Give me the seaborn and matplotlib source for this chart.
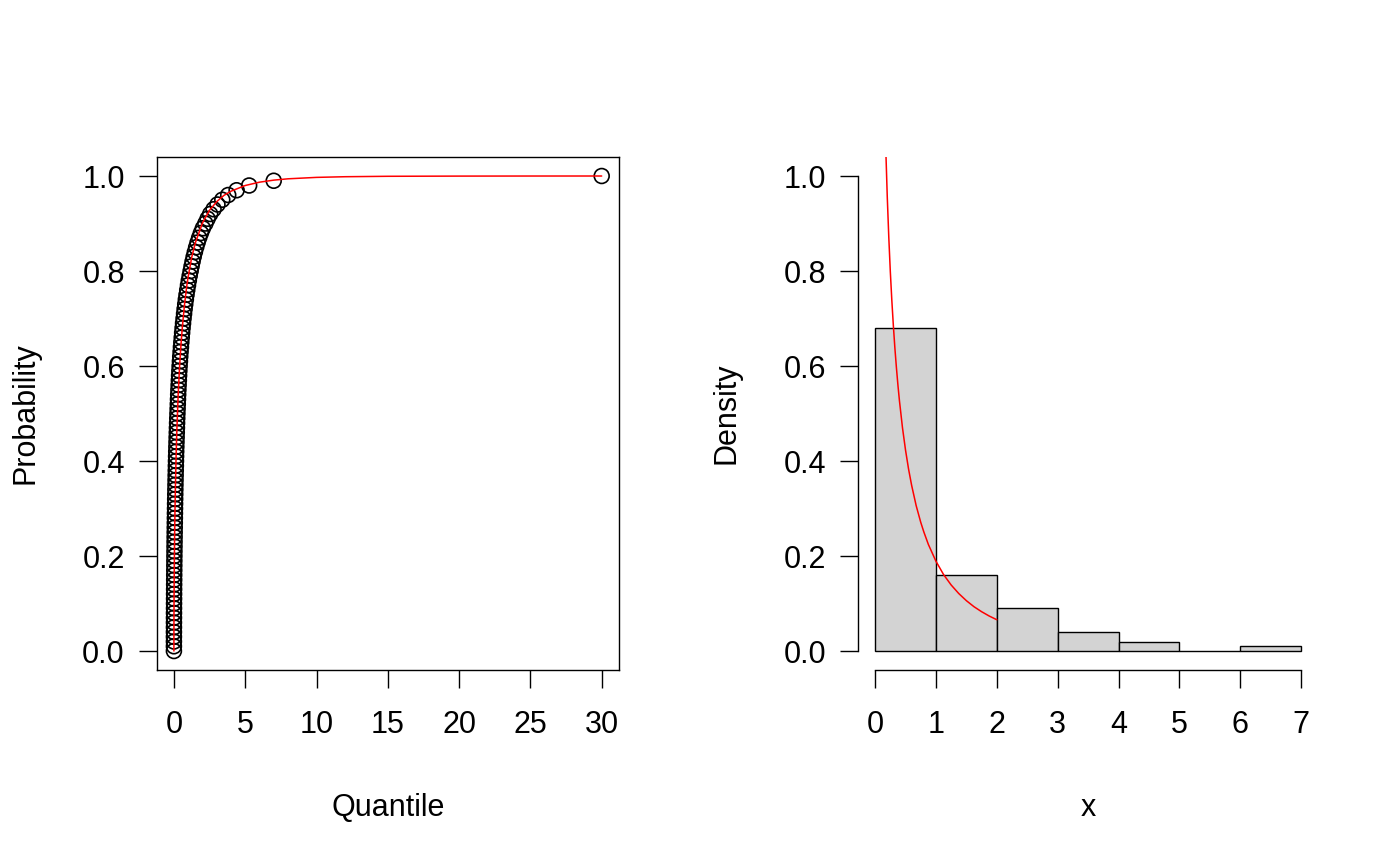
import numpy as np
import pandas as pd
import seaborn as sns
import matplotlib.pyplot as plt

# left panel: probability levels and the matching sample quantiles
probs = [i / 100 for i in range(101)]
quantiles = [
    0, 0.0002, 0.0005, 0.0011, 0.0018, 0.0027, 0.0037, 0.0049, 0.0062, 0.0077,
    0.0093, 0.0111, 0.0130, 0.0151, 0.0174, 0.0198, 0.0223, 0.0251, 0.0280, 0.0311,
    0.0343, 0.0378, 0.0414, 0.0452, 0.0492, 0.0534, 0.0578, 0.0624, 0.0672, 0.0723,
    0.0776, 0.0831, 0.0889, 0.0949, 0.1012, 0.1077, 0.1146, 0.1217, 0.1291, 0.1368,
    0.1449, 0.1533, 0.1620, 0.1711, 0.1806, 0.1905, 0.2008, 0.2115, 0.2227, 0.2343,
    0.2464, 0.2590, 0.2721, 0.2858, 0.3002, 0.3151, 0.3307, 0.3469, 0.3639, 0.3817,
    0.400, 0.422, 0.444, 0.468, 0.493, 0.520, 0.548, 0.577, 0.608, 0.641,
    0.676, 0.713, 0.751, 0.793, 0.837, 0.884, 0.934, 0.988, 1.045, 1.107,
    1.173, 1.238, 1.309, 1.386, 1.470, 1.561, 1.661, 1.771, 1.894, 2.031,
    2.206, 2.363, 2.544, 2.782, 3.055, 3.392, 3.808, 4.397, 5.276, 6.999,
    30.0,
]

# fitted CDF (red line, left)
cdf_x = [0, 0.001, 0.003, 0.01, 0.02, 0.03, 0.05, 0.07, 0.1, 0.15, 0.2, 0.3, 0.4,
         0.5, 0.6, 0.75, 0.9, 1.0, 1.25, 1.5, 2.0, 2.5, 3.0, 3.5, 4.0, 5.0, 6.0,
         7.0, 8.0, 10.0, 12.0, 15.0, 20.0, 25.0, 30.0]
cdf_y = [0, 0.029, 0.054, 0.104, 0.151, 0.187, 0.242, 0.286, 0.338, 0.406, 0.459,
         0.540, 0.600, 0.647, 0.685, 0.731, 0.768, 0.788, 0.829, 0.859, 0.901,
         0.928, 0.946, 0.959, 0.968, 0.980, 0.987, 0.9913, 0.9941, 0.9971,
         0.9985, 0.9994, 0.9998, 0.99995, 1.0]

# right panel: histogram bins and counts (100 values)
bin_edges = [0, 1, 2, 3, 4, 5, 6, 7]
bin_counts = [68, 16, 9, 4, 2, 0, 1]

# fitted density (red line, right)
dens_x = [0.05, 0.1, 0.125, 0.15, 0.175, 0.2, 0.225, 0.25, 0.275, 0.3, 0.325,
          0.35, 0.375, 0.4, 0.45, 0.5, 0.55, 0.6, 0.675, 0.75, 0.8, 0.875,
          1.0, 1.125, 1.25, 1.375, 1.5, 1.625, 1.75, 1.875, 2.0]
dens_y = [2.415, 1.571, 1.350, 1.187, 1.059, 0.956, 0.871, 0.799, 0.738, 0.685,
          0.638, 0.597, 0.560, 0.527, 0.470, 0.423, 0.383, 0.349, 0.306, 0.271,
          0.251, 0.2245, 0.189, 0.161, 0.139, 0.121, 0.106, 0.0933, 0.0828,
          0.0737, 0.0659]

sns.set_style('ticks')
plt.rcParams['font.family'] = ['Liberation Sans', 'DejaVu Sans']
plt.rcParams['font.size'] = 22
plt.rcParams['text.color'] = 'black'
plt.rcParams['axes.labelcolor'] = 'black'
plt.rcParams['axes.edgecolor'] = 'black'
plt.rcParams['xtick.color'] = 'black'
plt.rcParams['ytick.color'] = 'black'
plt.rcParams['axes.linewidth'] = 1.0
plt.rcParams['xtick.major.size'] = 13
plt.rcParams['ytick.major.size'] = 13
plt.rcParams['xtick.major.width'] = 1.0
plt.rcParams['ytick.major.width'] = 1.0
plt.rcParams['xtick.major.pad'] = 16
plt.rcParams['ytick.major.pad'] = 10

fig = plt.figure(figsize=(14, 8.66), dpi=100)
ax1 = fig.add_axes([0.112, 0.2263, 0.330, 0.5924])
ax2 = fig.add_axes([0.6129, 0.2263, 0.3286, 0.5924])

# --- left: quantiles vs probability
pts = pd.DataFrame({'Quantile': quantiles, 'Probability': probs})
sns.scatterplot(data=pts, x='Quantile', y='Probability', ax=ax1, marker='o',
                s=115, facecolors='none', edgecolor='black', linewidth=1.2)
sns.lineplot(x=cdf_x, y=cdf_y, ax=ax1, color='red', linewidth=1.1, sort=False)
ax1.set_xlim(-1.2, 31.2)
ax1.set_ylim(-0.04, 1.04)
ax1.set_xticks([0, 5, 10, 15, 20, 25, 30])
ax1.set_yticks([0, 0.2, 0.4, 0.6, 0.8, 1.0])
ax1.set_yticklabels(['0.0', '0.2', '0.4', '0.6', '0.8', '1.0'])
ax1.set_xlabel('Quantile', labelpad=38)
ax1.set_ylabel('Probability', labelpad=30)

# --- right: histogram with density curve
mids = [e + 0.5 for e in bin_edges[:-1]]
sns.histplot(x=mids, weights=bin_counts, bins=bin_edges, stat='density', ax=ax2,
             color='#d3d3d3', edgecolor='black', linewidth=1.0, alpha=1)
sns.lineplot(x=dens_x, y=dens_y, ax=ax2, color='red', linewidth=1.1, sort=False)
ax2.set_xlim(-0.28, 7.28)
ax2.set_ylim(-0.04, 1.04)
ax2.set_xticks(range(8))
ax2.set_yticks([0, 0.2, 0.4, 0.6, 0.8, 1.0])
ax2.set_yticklabels(['0.0', '0.2', '0.4', '0.6', '0.8', '1.0'])
ax2.set_xlabel('x', labelpad=38)
ax2.set_ylabel('Density', labelpad=30)
ax2.spines['top'].set_visible(False)
ax2.spines['right'].set_visible(False)
ax2.spines['left'].set_bounds(0, 1)
ax2.spines['bottom'].set_bounds(0, 7)

fig.savefig('out.png', dpi=100)
